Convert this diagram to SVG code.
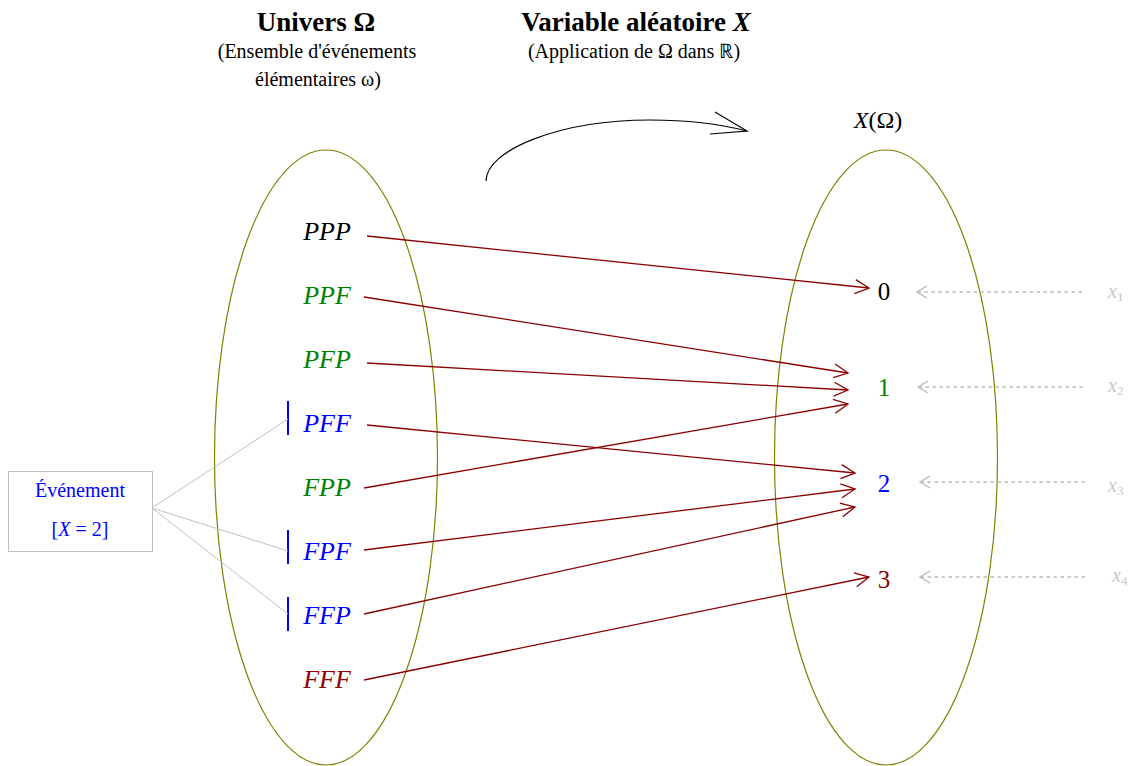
<svg xmlns="http://www.w3.org/2000/svg" width="1130" height="766" viewBox="0 0 1130 766">
<style>
text{font-family:"Liberation Serif","Times New Roman",serif}
.title{font-size:27px;font-weight:bold;text-anchor:middle;fill:#000}
.sub{font-size:20px;text-anchor:middle;fill:#000}
.om{font-size:26px;font-style:italic;text-anchor:middle}
.val{font-size:25px;text-anchor:middle}
.xl{font-size:20px;font-style:italic;fill:#c8c8c8}
.set{fill:none;stroke:#808000;stroke-width:1.2}
.map{stroke:#8b0000;stroke-width:1.3;fill:none;marker-end:url(#ah)}
.dot{stroke:#bbbbbb;stroke-width:1.6;stroke-dasharray:3.5,3.5;fill:none;marker-end:url(#gh)}
.gl{stroke:#c0c0c0;stroke-width:1;fill:none}
.bar{stroke:#0000ff;stroke-width:2}
.g{fill:#008000}.b{fill:#0000ff}.r{fill:#8b0000}.k{fill:#000}
</style>
<defs>
<marker id="ah" markerUnits="userSpaceOnUse" viewBox="-16 -10 20 20" refX="0" refY="0" markerWidth="20" markerHeight="20" orient="auto">
<path d="M-14,-7 L0,0 L-14,7" fill="none" stroke="#8b0000" stroke-width="1.3"/>
</marker>
<marker id="gh" markerUnits="userSpaceOnUse" viewBox="-14 -10 20 20" refX="0" refY="0" markerWidth="20" markerHeight="20" orient="auto">
<path d="M-10,-6 L0,0 L-10,6" fill="none" stroke="#bbbbbb" stroke-width="1.4"/>
</marker>
</defs>

<g id="headers">
<text class="title" x="316" y="31">Univers Ω</text>
<text class="sub" x="317" y="58">(Ensemble d'événements</text>
<text class="sub" x="318" y="86">élémentaires ω)</text>
<text class="title" x="636" y="31">Variable aléatoire <tspan font-style="italic">X</tspan></text>
<text class="sub" x="634" y="58">(Application de Ω dans ℝ)</text>
<text x="878" y="128" style="font-size:24px;text-anchor:middle"><tspan font-style="italic">X</tspan>(Ω)</text>
</g>

<g id="universe">
<ellipse class="set" cx="326" cy="457.5" rx="111.5" ry="307.5"/>
</g>
<g id="image">
<ellipse class="set" cx="886" cy="457.5" rx="111.5" ry="307.5"/>
</g>

<g id="omega-nodes">
<g id="n-PPP"><text class="om k" x="327" y="240">PPP</text></g>
<g id="n-PPF"><text class="om g" x="327" y="304">PPF</text></g>
<g id="n-PFP"><text class="om g" x="327" y="368">PFP</text></g>
<g id="n-PFF"><line class="bar" x1="288" y1="401" x2="288" y2="435"/><text class="om b" x="327" y="432">PFF</text></g>
<g id="n-FPP"><text class="om g" x="327" y="496">FPP</text></g>
<g id="n-FPF"><line class="bar" x1="288" y1="530" x2="288" y2="564"/><text class="om b" x="327" y="560">FPF</text></g>
<g id="n-FFP"><line class="bar" x1="288" y1="597" x2="288" y2="631"/><text class="om b" x="327" y="624">FFP</text></g>
<g id="n-FFF"><text class="om r" x="327" y="688">FFF</text></g>
</g>

<g id="value-nodes">
<g id="v0"><text class="val k" x="884" y="300">0</text></g>
<g id="v1"><text class="val g" x="884" y="396">1</text></g>
<g id="v2"><text class="val b" x="884" y="492">2</text></g>
<g id="v3"><text class="val r" x="884" y="588">3</text></g>
</g>

<g id="x-labels">
<g id="x1"><text class="xl" x="1108" y="298">x<tspan font-size="13" font-style="normal" dy="3">1</tspan></text></g>
<g id="x2"><text class="xl" x="1108" y="392">x<tspan font-size="13" font-style="normal" dy="3">2</tspan></text></g>
<g id="x3"><text class="xl" x="1108" y="492">x<tspan font-size="13" font-style="normal" dy="3">3</tspan></text></g>
<g id="x4"><text class="xl" x="1112" y="582">x<tspan font-size="13" font-style="normal" dy="3">4</tspan></text></g>
</g>

<g id="event">
<rect x="8.5" y="471.5" width="144" height="80" fill="#fff" stroke="#c0c0c0" stroke-width="1"/>
<text x="80" y="497" style="font-size:20px;text-anchor:middle;fill:#0000ff">Événement</text>
<text x="80" y="536" style="font-size:20px;text-anchor:middle;fill:#0000ff">[<tspan font-style="italic">X</tspan> = 2]</text>
</g>

<g id="connectors">
<line class="gl" x1="152" y1="508" x2="288" y2="419"/>
<line class="gl" x1="152" y1="508" x2="288" y2="551"/>
<line class="gl" x1="152" y1="508" x2="288" y2="614"/>

<line class="map" x1="367" y1="236" x2="869" y2="288"/>
<line class="map" x1="364" y1="297" x2="848" y2="373"/>
<line class="map" x1="367" y1="363" x2="848" y2="390"/>
<line class="map" x1="367" y1="425" x2="855" y2="473"/>
<line class="map" x1="364" y1="488" x2="848" y2="404"/>
<line class="map" x1="364" y1="550" x2="855" y2="489"/>
<line class="map" x1="364" y1="614" x2="855" y2="507"/>
<line class="map" x1="364" y1="680" x2="869" y2="577"/>

<line class="dot" x1="1082" y1="292" x2="917" y2="292"/>
<line class="dot" x1="1083" y1="387" x2="918" y2="387"/>
<line class="dot" x1="1085" y1="482" x2="920" y2="482"/>
<line class="dot" x1="1085" y1="577" x2="920" y2="577"/>

<path d="M486,181 C486,150 560,120 650,120 C690,120 720,124 747,131" fill="none" stroke="#000" stroke-width="1.2"/>
<path d="M715,112 L747,131 L710,134" fill="none" stroke="#000" stroke-width="1.2"/>
</g>
</svg>
